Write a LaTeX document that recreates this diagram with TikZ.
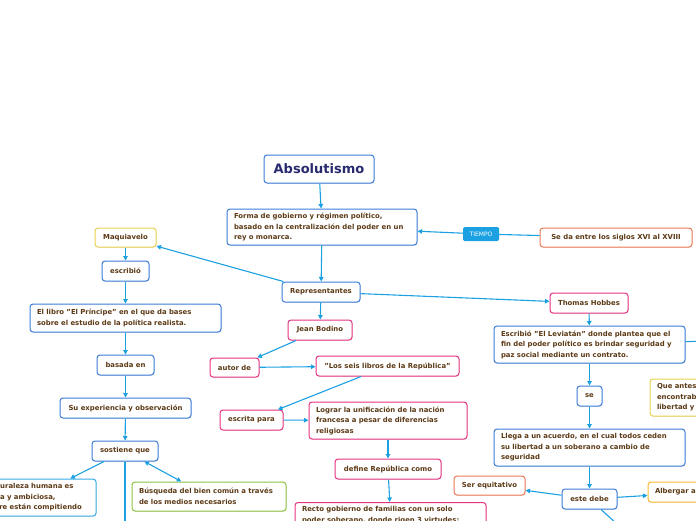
\documentclass[tikz,border=0pt]{standalone}
\usepackage{fontspec}
\setmainfont{DejaVu Sans}
\usetikzlibrary{arrows.meta,shadows}
\definecolor{azul}{RGB}{59,125,216}
\definecolor{rosa}{RGB}{232,51,130}
\definecolor{amarillo}{RGB}{232,210,80}
\definecolor{naranja}{RGB}{238,122,84}
\definecolor{dorado}{RGB}{246,186,50}
\definecolor{verde}{RGB}{141,196,63}
\definecolor{cielo}{RGB}{56,172,230}
\definecolor{celeste}{RGB}{27,161,226}
\definecolor{cafe}{RGB}{92,58,22}
\definecolor{marino}{RGB}{40,42,110}
\begin{document}
\begin{tikzpicture}[x=1pt, y=-1pt,
  caja/.style={draw=#1, fill=white, rounded corners=3pt, line width=1pt, text=cafe,
    font=\bfseries\fontsize{6.9}{10.5}\selectfont, inner xsep=7pt, inner ysep=3pt,
    drop shadow={shadow xshift=.6pt, shadow yshift=-.8pt, opacity=.2}},
  caja/.default=azul,
  texto/.style={align=left, text width=#1},
  flecha/.style={draw=celeste, line width=1.1pt, -{Triangle[length=4.5pt,width=4.5pt]}},
  trazo/.style={draw=celeste, line width=1.1pt}]
  \useasboundingbox (0,0) rectangle (696,520);
  \clip (0,0) rectangle (696,520);
  % el tema central
  \node[caja, minimum width=110pt, minimum height=28pt, text=marino,
    font=\bfseries\fontsize{13}{15}\selectfont] (absolutismo) at (319,169) {Absolutismo};
  \node[caja, texto=176pt, minimum height=36pt] (forma) at (322,227)
    {Forma de gobierno y régimen político,\\basado en la centralización del poder en un\\rey o monarca.};
  \node[fill=celeste, rounded corners=1.5pt, text=white, font=\fontsize{6}{7}\selectfont,
    minimum width=36pt, minimum height=14pt, inner sep=0pt] (tiempo) at (481,234) {TIEMPO};
  \node[caja=naranja, minimum width=152pt, minimum height=19pt] (siglos) at (616,237.5)
    {Se da entre los siglos XVI al XVIII};
  \node[caja, minimum width=78pt, minimum height=20pt] (representantes) at (321,292) {Representantes};
  % Maquiavelo
  \node[caja=amarillo, minimum width=61pt, minimum height=19pt] (maquiavelo) at (125.5,237.5) {Maquiavelo};
  \node[caja, minimum width=47pt, minimum height=20pt] (escribio) at (125.5,271) {escribió};
  \node[caja, texto=177pt, minimum height=28pt] (principe) at (125.5,318)
    {El libro "El Príncipe" en el que da bases\\sobre el estudio de la política realista.};
  \node[caja, minimum width=57pt, minimum height=20pt] (basada) at (125.5,365) {basada en};
  \node[caja, minimum width=131pt, minimum height=20pt] (experiencia) at (125.5,408) {Su experiencia y observación};
  \node[caja, minimum width=66pt, minimum height=20pt] (sostiene) at (125,451) {sostiene que};
  \node[caja=cielo, texto=113pt, minimum height=37pt] (naturaleza) at (32.5,497.5)
    {La naturaleza humana es\\egoísta y ambiciosa,\\siempre están compitiendo};
  \node[caja=verde, texto=140pt, minimum height=29pt] (bien) at (209,496.5)
    {Búsqueda del bien común a través\\de los medios necesarios};
  \coordinate (sostieneabajo) at (125,560);
  % Jean Bodino
  \node[caja=rosa, minimum width=64pt, minimum height=20pt] (bodino) at (320,330) {Jean Bodino};
  \node[caja=rosa, minimum width=49pt, minimum height=19pt] (autor) at (234.5,367.5) {autor de};
  \node[caja=rosa, minimum width=143pt, minimum height=20pt] (libros) at (387.5,366)
    {"Los seis libros de la República"};
  \node[caja=rosa, minimum width=63pt, minimum height=20pt] (escrita) at (251.5,420) {escrita para};
  \node[caja=rosa, texto=144pt, minimum height=37pt] (lograr) at (388,420.5)
    {Lograr la unificación de la nación\\francesa a pesar de diferencias\\religiosas};
  \node[caja=rosa, minimum width=106pt, minimum height=20pt] (define) at (388,469) {define República como};
  \node[caja=rosa, texto=177pt, inner ysep=4pt, anchor=north] (recto) at (390.5,502)
    {Recto gobierno de familias con un solo\\poder soberano, donde rigen 3 virtudes:};
  % Thomas Hobbes
  \node[caja=rosa, minimum width=78pt, minimum height=20pt] (hobbes) at (589,303) {Thomas Hobbes};
  \node[caja, texto=177pt, minimum height=37pt] (leviatan) at (589.5,344.5)
    {Escribió "El Leviatán" donde plantea que el\\fin del poder político es brindar seguridad y\\paz social mediante un contrato.};
  \coordinate (leviatanfuera) at (740,340);
  \node[caja, minimum width=25pt, minimum height=20pt, inner xsep=2pt] (se) at (589.5,396) {se};
  \node[caja=amarillo, texto=110pt, minimum height=37pt] (antes) at (712,397.5)
    {Que antes los hombres se\\encontraban en estado de\\libertad y guerra};
  \node[caja, texto=177pt, minimum height=37pt] (llega) at (589.5,447.5)
    {Llega a un acuerdo, en el cual todos ceden\\su libertad a un soberano a cambio de\\seguridad};
  \node[caja, minimum width=55pt, minimum height=20pt] (debe) at (589.5,499) {este debe};
  \node[caja=naranja, minimum width=71pt, minimum height=19pt] (equitativo) at (489.5,485.5) {Ser equitativo};
  \node[caja=dorado, texto=100pt, minimum height=20pt] (albergar) at (705,492) {Albergar a todos};
  \coordinate (debeabajo) at (640,545);
  % conectores
  \draw[flecha] (absolutismo) -- (forma);
  \draw[trazo] (siglos) -- (tiempo);
  \draw[flecha] (tiempo) -- (forma);
  \draw[flecha] (forma) -- (representantes);
  \draw[flecha] (representantes) -- (maquiavelo);
  \draw[flecha] (representantes) -- (bodino);
  \draw[flecha] (representantes) -- (hobbes);
  \draw[flecha] (maquiavelo) -- (escribio);
  \draw[flecha] (escribio) -- (principe);
  \draw[flecha] (principe) -- (basada);
  \draw[flecha] (basada) -- (experiencia);
  \draw[flecha] (experiencia) -- (sostiene);
  \draw[flecha] (sostiene) -- (naturaleza);
  \draw[flecha, {Triangle[length=4.5pt,width=4.5pt]}-{Triangle[length=4.5pt,width=4.5pt]}] (sostiene) -- (bien);
  \draw[trazo] (sostiene) -- (sostieneabajo);
  \draw[flecha] (bodino) -- (autor);
  \draw[flecha] (autor) -- (libros);
  \draw[flecha] (libros) -- (escrita);
  \draw[flecha] (escrita) -- (lograr);
  \draw[flecha] (lograr) -- (define);
  \draw[flecha] (define) -- (recto);
  \draw[flecha] (hobbes) -- (leviatan);
  \draw[trazo] (leviatan) -- (leviatanfuera);
  \draw[flecha] (leviatan) -- (se);
  \draw[flecha] (se) -- (llega);
  \draw[flecha] (llega) -- (debe);
  \draw[flecha] (debe) -- (equitativo);
  \draw[flecha] (debe) -- (albergar);
  \draw[trazo] (debe) -- (debeabajo);
\end{tikzpicture}
\end{document}
